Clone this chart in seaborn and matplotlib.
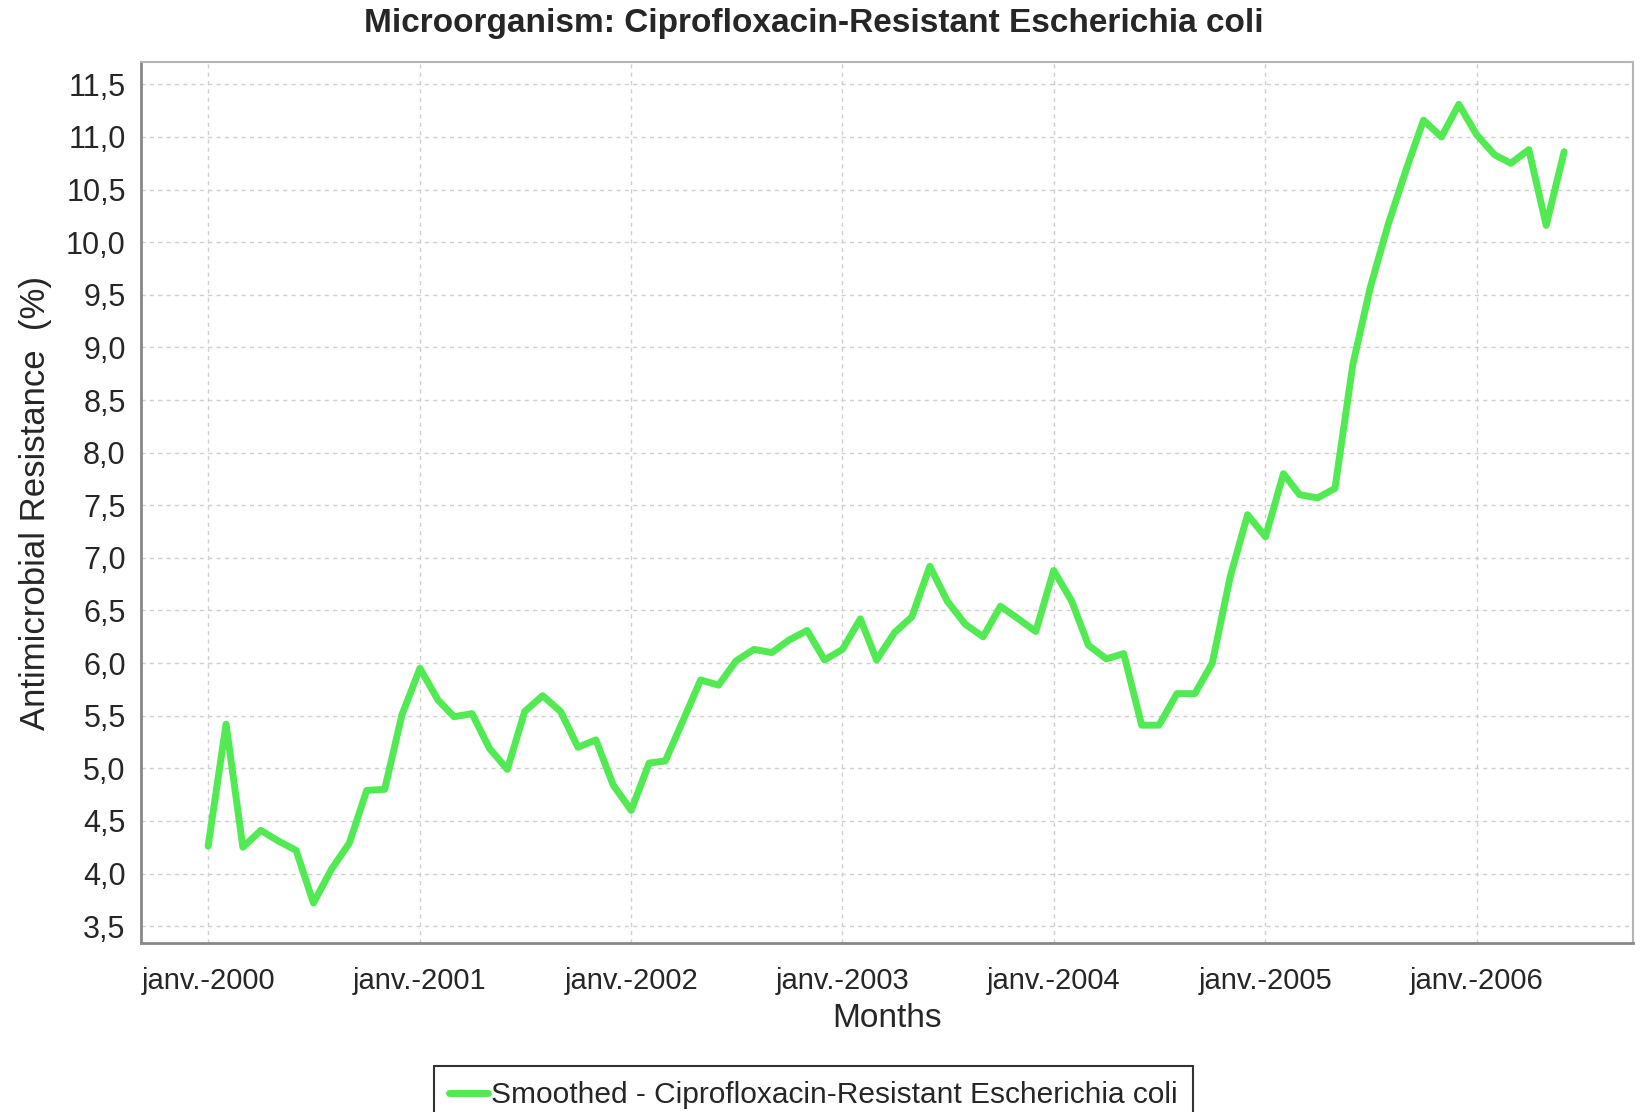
"""
plot.py: monthly ciprofloxacin-resistant E. coli share, smoothed series.
"""

import matplotlib

matplotlib.use("Agg")

import matplotlib.pyplot as plt
import matplotlib.ticker as mticker
import pandas as pd
import seaborn as sns


# ──────────────────────────────────────────────────────────────
# Data (Jan 2000 .. Jun 2006)
# ──────────────────────────────────────────────────────────────

resistance_2000 = [4.26, 5.42, 4.25, 4.41, 4.31, 4.22, 3.72, 4.04, 4.29, 4.79, 4.80, 5.51]
resistance_2001 = [5.95, 5.65, 5.49, 5.52, 5.19, 4.99, 5.54, 5.69, 5.54, 5.20, 5.27, 4.84]
resistance_2002 = [4.60, 5.05, 5.07, 5.46, 5.84, 5.79, 6.02, 6.13, 6.10, 6.22, 6.31, 6.03]
resistance_2003 = [6.13, 6.42, 6.03, 6.29, 6.44, 6.92, 6.59, 6.37, 6.25, 6.54, 6.42, 6.30]
resistance_2004 = [6.88, 6.59, 6.17, 6.04, 6.09, 5.41, 5.41, 5.71, 5.71, 6.00, 6.82, 7.41]
resistance_2005 = [7.20, 7.80, 7.60, 7.57, 7.66, 8.84, 9.57, 10.17, 10.69, 11.16, 11.00, 11.31]
resistance_2006 = [11.02, 10.83, 10.75, 10.88, 10.16, 10.86]

years = [2000, 2001, 2002, 2003, 2004, 2005, 2006]
year_labels = ["janv.-2000", "janv.-2001", "janv.-2002", "janv.-2003",
               "janv.-2004", "janv.-2005", "janv.-2006"]
series_name = "Smoothed - Ciprofloxacin-Resistant Escherichia coli"

values = (resistance_2000 + resistance_2001 + resistance_2002 + resistance_2003
          + resistance_2004 + resistance_2005 + resistance_2006)
df = pd.DataFrame({
    "month": pd.date_range("2000-01-01", periods=len(values), freq="MS"),
    "resistance": values,
    "series": series_name,
})


# ──────────────────────────────────────────────────────────────
# Style
# ──────────────────────────────────────────────────────────────

sns.set_style("white")
plt.rcParams["font.family"] = ["Liberation Sans", "DejaVu Sans"]

fig = plt.figure(figsize=(16.47, 11.12), dpi=100)
ax = fig.add_axes([0.0856, 0.152, 0.9059, 0.792])

sns.lineplot(
    data=df, x="month", y="resistance", hue="series",
    palette=["#52ea52"], linewidth=5, ax=ax,
)

# Axes limits and ticks
start = pd.Timestamp("2000-01-01")
ax.set_xlim(start - pd.Timedelta(days=116), start + pd.Timedelta(days=2462))
ax.set_ylim(3.34, 11.71)
ax.set_xticks([pd.Timestamp(f"{y}-01-01") for y in years])
ax.set_xticklabels(year_labels, fontsize=21)
ax.yaxis.set_major_locator(mticker.MultipleLocator(0.5))
ax.yaxis.set_major_formatter(
    mticker.FuncFormatter(lambda v, _: f"{v:.1f}".replace(".", ","))
)
ax.tick_params(axis="y", labelsize=22, length=5, width=1, color="#999999", pad=6)
ax.tick_params(axis="x", length=5, width=1, color="#999999", pad=12)

ax.grid(True, linestyle=(0, (3, 3)), color="#cfcfcf", linewidth=1)
for side in ["top", "right"]:
    ax.spines[side].set_color("#b5b5b5")
    ax.spines[side].set_linewidth(1.5)
for side in ["left", "bottom"]:
    ax.spines[side].set_color("#888888")
    ax.spines[side].set_linewidth(2)

ax.set_xlabel("Months", fontsize=24, labelpad=6)
ax.set_ylabel("Antimicrobial Resistance  (%)", fontsize=25, labelpad=10)

fig.text(0.494, 0.979, "Microorganism: Ciprofloxacin-Resistant Escherichia coli",
         ha="center", va="center", fontsize=24, fontweight="bold")

# Legend below the plot, partly cut by the figure edge like the original
ax.legend_.remove()
handles, labels = ax.get_legend_handles_labels()
leg = fig.legend(
    handles, labels, loc="upper center", bbox_to_anchor=(0.494, 0.041),
    fontsize=21.5, frameon=True, fancybox=False, handlelength=1.3,
    handletextpad=0.1, borderpad=0.5, borderaxespad=0,
)
leg.get_frame().set_edgecolor("black")
leg.get_frame().set_linewidth(1.5)

fig.savefig("out.png", dpi=100)
